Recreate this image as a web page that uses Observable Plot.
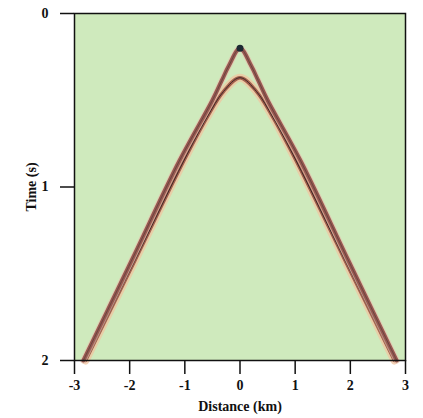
<!DOCTYPE html>
<html><head><meta charset="utf-8">
<script src="https://cdn.jsdelivr.net/npm/d3@7"></script>
<script src="https://cdn.jsdelivr.net/npm/@observablehq/plot@0.6"></script>
<style>body{margin:0;background:#fff} svg text{font-family:'Liberation Serif',serif !important;font-weight:bold}</style>
</head><body><div id="chart"></div>
<script>
// Event 1 (earlier arrival, apex ~0.2 s)
const ev1Dist = [-2.84, -1.96, -1.1, -0.5, -0.33, -0.2, 0, 0.2, 0.33, 0.5, 1.1, 1.96, 2.84];
const ev1Time = [2.0, 1.42, 0.85, 0.5, 0.386, 0.3, 0.2, 0.3, 0.386, 0.5, 0.85, 1.42, 2.0];
// Event 2 (later arrival, apex ~0.37 s)
const ev2Dist = [-2.8, -1.9, -1.02, -0.6, -0.3, 0, 0.3, 0.6, 1.02, 1.9, 2.8];
const ev2Time = [2.0, 1.42, 0.85, 0.6, 0.45, 0.37, 0.45, 0.6, 0.85, 1.42, 2.0];
const apexDist = [0];
const apexTime = [0.2];
const xTicks = [-3, -2, -1, 0, 1, 2, 3];
const yTicks = [0, 1, 2];

const ev1 = ev1Dist.map((d, i) => ({d, t: ev1Time[i]}));
const ev2 = ev2Dist.map((d, i) => ({d, t: ev2Time[i]}));
const apex = apexDist.map((d, i) => ({d, t: apexTime[i]}));

const font = {fontFamily: "'Liberation Serif', serif", fontWeight: "bold"};

const chart = Plot.plot({
  width: 423, height: 418,
  marginLeft: 74, marginRight: 18, marginTop: 13, marginBottom: 58,
  style: {fontFamily: "'Liberation Serif', serif", fontWeight: "bold", fontSize: "13px", color: "#111", background: "#fff"},
  x: {domain: [-3, 3]},
  y: {domain: [0, 2], reverse: true},
  marks: [
    Plot.frame({fill: "#cfeabd", stroke: "none"}),
    // event 2: halo, body, core
    Plot.line(ev2, {x: "d", y: "t", curve: "catmull-rom", stroke: "#f0c4a0", strokeWidth: 8, strokeOpacity: 0.75}),
    Plot.line(ev2, {x: "d", y: "t", curve: "catmull-rom", stroke: "#a45e4c", strokeWidth: 3.5}),
    Plot.line(ev2, {x: "d", y: "t", curve: "catmull-rom", stroke: "#3a2a28", strokeWidth: 1}),
    // event 1
    Plot.line(ev1, {x: "d", y: "t", curve: "catmull-rom", stroke: "#e6c0ae", strokeWidth: 6, strokeOpacity: 0.7}),
    Plot.line(ev1, {x: "d", y: "t", curve: "catmull-rom", stroke: "#975850", strokeWidth: 4}),
    Plot.line(ev1, {x: "d", y: "t", curve: "catmull-rom", stroke: "#6a4440", strokeWidth: 1}),
    Plot.dot(apex, {x: "d", y: "t", r: 3.5, fill: "#1c2a33", stroke: "none"}),
    Plot.frame({stroke: "#111", strokeWidth: 1.5}),
    Plot.axisX({ticks: xTicks, tickSize: 14, tickPadding: 6, tickFormat: d => String(d), strokeWidth: 1.5, fontSize: 14, ...font, label: "Distance (km)", labelAnchor: "center", labelArrow: "none", labelOffset: 50}),
    Plot.axisY({ticks: yTicks, tickSize: 14, tickPadding: 12, tickFormat: d => String(d), strokeWidth: 1.5, fontSize: 14, ...font, label: "Time (s)", labelAnchor: "center", labelArrow: "none", labelOffset: 48})
  ]
});
document.getElementById("chart").appendChild(chart);
</script>
</body></html>
